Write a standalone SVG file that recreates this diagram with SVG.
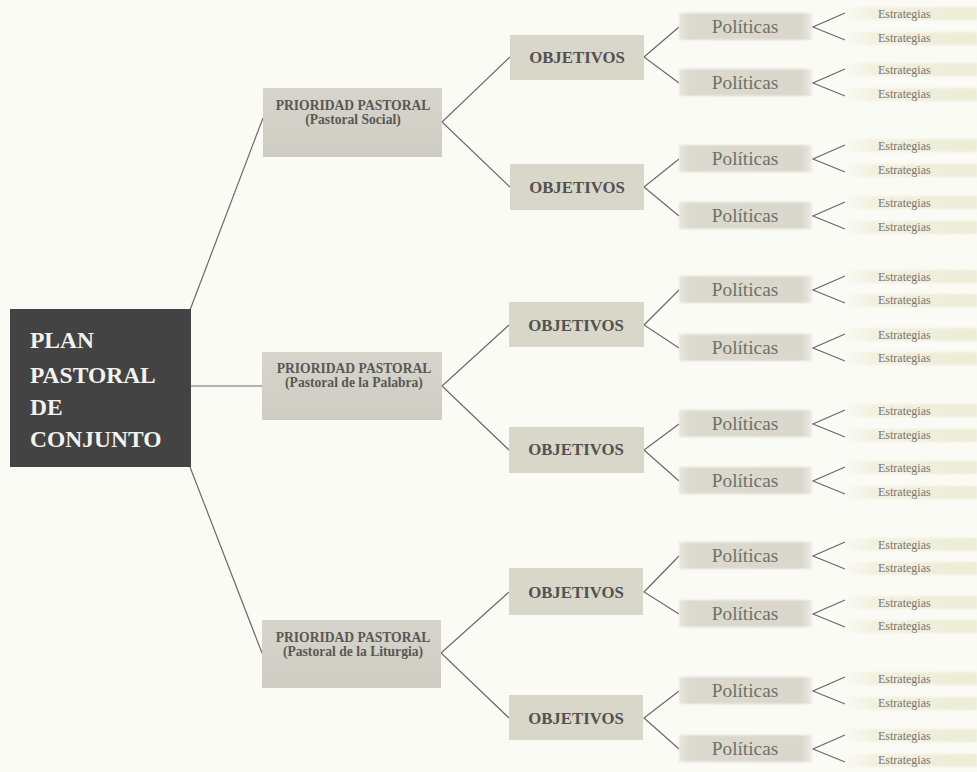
<svg xmlns="http://www.w3.org/2000/svg" width="977" height="772" viewBox="0 0 977 772">
<defs>
<linearGradient id="gPol" x1="0" y1="0" x2="1" y2="0">
<stop offset="0" stop-color="#dcd9cf" stop-opacity="0.6"/>
<stop offset="0.08" stop-color="#dcd9cf"/>
<stop offset="0.92" stop-color="#dad7cc"/>
<stop offset="1" stop-color="#dcd9cf" stop-opacity="0.5"/>
</linearGradient>
<linearGradient id="gEst" x1="0" y1="0" x2="1" y2="0">
<stop offset="0" stop-color="#f4f2e2" stop-opacity="0.2"/>
<stop offset="0.2" stop-color="#f3f1e0"/>
<stop offset="1" stop-color="#edecd6"/>
</linearGradient>
<linearGradient id="gPri" x1="0" y1="0" x2="0" y2="1">
<stop offset="0" stop-color="#d6d4cb"/>
<stop offset="1" stop-color="#cfcdc3"/>
</linearGradient>
<filter id="soft" x="-5%" y="-20%" width="110%" height="140%"><feGaussianBlur stdDeviation="1.2"/></filter>
</defs>
<style>
.bg{fill:#fbfbf6}
.main{fill:#434343}
.mt{font-family:"Liberation Serif",serif;font-weight:bold;font-size:23.5px;fill:#f2f2ee}
.pri{fill:url(#gPri)}
.pt{font-family:"Liberation Serif",serif;font-weight:bold;font-size:13.6px;fill:#585856;text-anchor:middle}
.obj{fill:#d9d6ca}
.ot{font-family:"Liberation Serif",serif;font-weight:bold;font-size:16.8px;fill:#525250;text-anchor:middle}
.pol{fill:url(#gPol);filter:url(#soft)}
.polt{font-family:"Liberation Serif",serif;font-size:19.3px;fill:#70706c;text-anchor:middle}
.est{fill:url(#gEst);filter:url(#soft)}
.et{font-family:"Liberation Serif",serif;font-size:12px;fill:#767672}
.c path,.c line{stroke:#6a6a68;stroke-width:1.2;fill:none}
</style>
<rect class="bg" width="977" height="772"/>

<g class="c" id="connectors">
<line x1="190" y1="310" x2="263" y2="118"/>
<line x1="190" y1="386" x2="262" y2="386"/>
<line x1="190" y1="467" x2="262" y2="653"/>
<path d="M510,57 L442,122 L510,187"/>
<path d="M509,325 L442,386 L509,450"/>
<path d="M509,592 L441,653 L509,718"/>
<path d="M679,27 L644,57 L679,83"/>
<path d="M679,159 L644,187 L679,216"/>
<path d="M679,290 L644,325 L679,348"/>
<path d="M679,424 L644,450 L679,481"/>
<path d="M679,556 L644,592 L679,614"/>
<path d="M679,691 L644,718 L679,749"/>
<path d="M845,13 L813,27 L845,40"/>
<path d="M845,69 L813,83 L845,96"/>
<path d="M845,145 L813,159 L845,172"/>
<path d="M845,202 L813,216 L845,229"/>
<path d="M845,276 L813,290 L845,303"/>
<path d="M845,334 L813,348 L845,361"/>
<path d="M845,410 L813,424 L845,437"/>
<path d="M845,467 L813,481 L845,494"/>
<path d="M845,542 L813,556 L845,569"/>
<path d="M845,600 L813,614 L845,627"/>
<path d="M845,677 L813,691 L845,704"/>
<path d="M845,735 L813,749 L845,762"/>
</g>

<g id="plan">
<rect class="main" x="10" y="309" width="181" height="158"/>
<text class="mt" x="30" y="348">PLAN</text>
<text class="mt" x="30" y="383">PASTORAL</text>
<text class="mt" x="30" y="415">DE</text>
<text class="mt" x="30" y="447">CONJUNTO</text>
</g>

<g id="prioridad-1">
<rect class="pri" x="263" y="88" width="179" height="69"/>
<text class="pt" x="353" y="110">PRIORIDAD PASTORAL</text>
<text class="pt" x="353" y="124">(Pastoral Social)</text>
</g>
<g id="prioridad-2">
<rect class="pri" x="262" y="352" width="180" height="68"/>
<text class="pt" x="354" y="373">PRIORIDAD PASTORAL</text>
<text class="pt" x="354" y="387">(Pastoral de la Palabra)</text>
</g>
<g id="prioridad-3">
<rect class="pri" x="262" y="620" width="179" height="68"/>
<text class="pt" x="353" y="642">PRIORIDAD PASTORAL</text>
<text class="pt" x="353" y="656">(Pastoral de la Liturgia)</text>
</g>

<g id="objetivos-1"><rect class="obj" x="510" y="35" width="134" height="45"/><text class="ot" x="577" y="63">OBJETIVOS</text></g>
<g id="objetivos-2"><rect class="obj" x="510" y="164" width="134" height="46"/><text class="ot" x="577" y="193">OBJETIVOS</text></g>
<g id="objetivos-3"><rect class="obj" x="509" y="302" width="135" height="45"/><text class="ot" x="576" y="331">OBJETIVOS</text></g>
<g id="objetivos-4"><rect class="obj" x="509" y="427" width="135" height="46"/><text class="ot" x="576" y="455">OBJETIVOS</text></g>
<g id="objetivos-5"><rect class="obj" x="509" y="568" width="134" height="47"/><text class="ot" x="576" y="598">OBJETIVOS</text></g>
<g id="objetivos-6"><rect class="obj" x="509" y="695" width="134" height="45"/><text class="ot" x="576" y="724">OBJETIVOS</text></g>

<g id="politicas-1"><rect class="pol" x="679" y="13" width="133" height="27"/><text class="polt" x="745" y="33">Políticas</text></g>
<g id="politicas-2"><rect class="pol" x="679" y="69" width="133" height="27"/><text class="polt" x="745" y="89">Políticas</text></g>
<g id="politicas-3"><rect class="pol" x="679" y="145" width="133" height="27"/><text class="polt" x="745" y="165">Políticas</text></g>
<g id="politicas-4"><rect class="pol" x="679" y="202" width="133" height="27"/><text class="polt" x="745" y="222">Políticas</text></g>
<g id="politicas-5"><rect class="pol" x="679" y="276" width="133" height="27"/><text class="polt" x="745" y="296">Políticas</text></g>
<g id="politicas-6"><rect class="pol" x="679" y="334" width="133" height="27"/><text class="polt" x="745" y="354">Políticas</text></g>
<g id="politicas-7"><rect class="pol" x="679" y="410" width="133" height="27"/><text class="polt" x="745" y="430">Políticas</text></g>
<g id="politicas-8"><rect class="pol" x="679" y="467" width="133" height="27"/><text class="polt" x="745" y="487">Políticas</text></g>
<g id="politicas-9"><rect class="pol" x="679" y="542" width="133" height="27"/><text class="polt" x="745" y="562">Políticas</text></g>
<g id="politicas-10"><rect class="pol" x="679" y="600" width="133" height="27"/><text class="polt" x="745" y="620">Políticas</text></g>
<g id="politicas-11"><rect class="pol" x="679" y="677" width="133" height="27"/><text class="polt" x="745" y="697">Políticas</text></g>
<g id="politicas-12"><rect class="pol" x="679" y="735" width="133" height="27"/><text class="polt" x="745" y="755">Políticas</text></g>

<g id="estrategias-1"><rect class="est" x="846" y="7" width="131" height="13"/><text class="et" x="878" y="18">Estrategias</text></g>
<g id="estrategias-2"><rect class="est" x="846" y="32" width="131" height="13"/><text class="et" x="878" y="42">Estrategias</text></g>
<g id="estrategias-3"><rect class="est" x="846" y="63" width="131" height="13"/><text class="et" x="878" y="74">Estrategias</text></g>
<g id="estrategias-4"><rect class="est" x="846" y="88" width="131" height="13"/><text class="et" x="878" y="98">Estrategias</text></g>
<g id="estrategias-5"><rect class="est" x="846" y="139" width="131" height="13"/><text class="et" x="878" y="150">Estrategias</text></g>
<g id="estrategias-6"><rect class="est" x="846" y="164" width="131" height="13"/><text class="et" x="878" y="174">Estrategias</text></g>
<g id="estrategias-7"><rect class="est" x="846" y="196" width="131" height="13"/><text class="et" x="878" y="207">Estrategias</text></g>
<g id="estrategias-8"><rect class="est" x="846" y="221" width="131" height="13"/><text class="et" x="878" y="231">Estrategias</text></g>
<g id="estrategias-9"><rect class="est" x="846" y="270" width="131" height="13"/><text class="et" x="878" y="281">Estrategias</text></g>
<g id="estrategias-10"><rect class="est" x="846" y="294" width="131" height="13"/><text class="et" x="878" y="304">Estrategias</text></g>
<g id="estrategias-11"><rect class="est" x="846" y="328" width="131" height="13"/><text class="et" x="878" y="339">Estrategias</text></g>
<g id="estrategias-12"><rect class="est" x="846" y="352" width="131" height="13"/><text class="et" x="878" y="362">Estrategias</text></g>
<g id="estrategias-13"><rect class="est" x="846" y="404" width="131" height="13"/><text class="et" x="878" y="415">Estrategias</text></g>
<g id="estrategias-14"><rect class="est" x="846" y="429" width="131" height="13"/><text class="et" x="878" y="439">Estrategias</text></g>
<g id="estrategias-15"><rect class="est" x="846" y="461" width="131" height="13"/><text class="et" x="878" y="472">Estrategias</text></g>
<g id="estrategias-16"><rect class="est" x="846" y="486" width="131" height="13"/><text class="et" x="878" y="496">Estrategias</text></g>
<g id="estrategias-17"><rect class="est" x="846" y="538" width="131" height="13"/><text class="et" x="878" y="549">Estrategias</text></g>
<g id="estrategias-18"><rect class="est" x="846" y="562" width="131" height="13"/><text class="et" x="878" y="572">Estrategias</text></g>
<g id="estrategias-19"><rect class="est" x="846" y="596" width="131" height="13"/><text class="et" x="878" y="607">Estrategias</text></g>
<g id="estrategias-20"><rect class="est" x="846" y="620" width="131" height="13"/><text class="et" x="878" y="630">Estrategias</text></g>
<g id="estrategias-21"><rect class="est" x="846" y="672" width="131" height="13"/><text class="et" x="878" y="683">Estrategias</text></g>
<g id="estrategias-22"><rect class="est" x="846" y="697" width="131" height="13"/><text class="et" x="878" y="707">Estrategias</text></g>
<g id="estrategias-23"><rect class="est" x="846" y="729" width="131" height="13"/><text class="et" x="878" y="740">Estrategias</text></g>
<g id="estrategias-24"><rect class="est" x="846" y="754" width="131" height="13"/><text class="et" x="878" y="764">Estrategias</text></g>
</svg>
